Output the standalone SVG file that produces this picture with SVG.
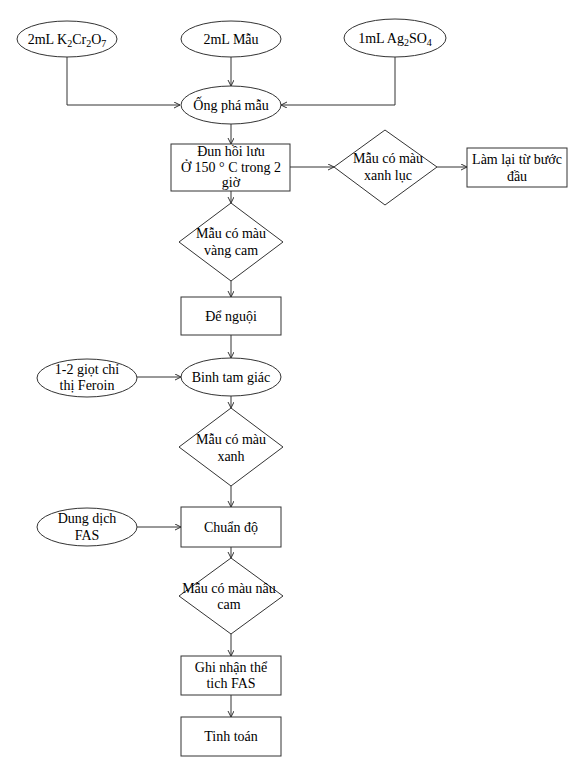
<svg xmlns="http://www.w3.org/2000/svg" width="572" height="771" viewBox="0 0 572 771">
<style>
.s{fill:#fff;stroke:#333;stroke-width:1}
.c{fill:none;stroke:#333;stroke-width:1}
text{font-family:"Liberation Serif","DejaVu Serif",serif;font-size:14px;fill:#000;text-anchor:middle}
.sub{font-size:10px}
</style>
<defs>
<marker id="a" markerWidth="8" markerHeight="8" refX="6" refY="3" orient="auto" markerUnits="userSpaceOnUse">
<path d="M0,0 L6,3 L0,6" fill="none" stroke="#333" stroke-width="1"/>
</marker>
</defs>
<rect width="572" height="771" fill="#fff"/>
<g id="connectors">
<path class="c" d="M67,57 V105 H180" marker-end="url(#a)"/>
<path class="c" d="M231,57 V86" marker-end="url(#a)"/>
<path class="c" d="M395,57 V105 H281" marker-end="url(#a)"/>
<path class="c" d="M231,124 V144" marker-end="url(#a)"/>
<path class="c" d="M290,167 H334" marker-end="url(#a)"/>
<path class="c" d="M437,167 H467" marker-end="url(#a)"/>
<path class="c" d="M231,191 V203" marker-end="url(#a)"/>
<path class="c" d="M231,281 V297" marker-end="url(#a)"/>
<path class="c" d="M231,335 V358" marker-end="url(#a)"/>
<path class="c" d="M137,377 H181" marker-end="url(#a)"/>
<path class="c" d="M231,396 V408" marker-end="url(#a)"/>
<path class="c" d="M231,486 V507" marker-end="url(#a)"/>
<path class="c" d="M137,527 H181" marker-end="url(#a)"/>
<path class="c" d="M231,547 V558" marker-end="url(#a)"/>
<path class="c" d="M231,634 V656" marker-end="url(#a)"/>
<path class="c" d="M231,695 V717" marker-end="url(#a)"/>
</g>
<g id="n-k2cr2o7"><ellipse class="s" cx="67" cy="39" rx="50" ry="18"/><text x="67" y="44">2mL K<tspan class="sub" dy="3">2</tspan><tspan dy="-3">Cr</tspan><tspan class="sub" dy="3">2</tspan><tspan dy="-3">O</tspan><tspan class="sub" dy="3">7</tspan></text></g>
<g id="n-mau"><ellipse class="s" cx="231" cy="39" rx="50" ry="18"/><text x="231" y="44">2mL Mẫu</text></g>
<g id="n-ag2so4"><ellipse class="s" cx="395" cy="38" rx="51" ry="19"/><text x="395" y="43">1mL Ag<tspan class="sub" dy="3">2</tspan><tspan dy="-3">SO</tspan><tspan class="sub" dy="3">4</tspan></text></g>
<g id="n-ong"><ellipse class="s" cx="231" cy="105" rx="50" ry="19"/><text x="231" y="110">Ống phá mẫu</text></g>
<g id="n-dun"><rect class="s" x="171" y="144" width="119" height="47"/><text x="231" y="156">Đun hồi lưu</text><text x="231" y="172">Ở 150 ° C trong 2</text><text x="231" y="187">giờ</text></g>
<g id="n-xanhluc"><polygon class="s" points="385,130 437,167 385,205 334,167"/><text x="388" y="163">Mẫu có màu</text><text x="388" y="180">xanh lục</text></g>
<g id="n-lamlai"><rect class="s" x="467" y="148" width="100" height="39"/><text x="517" y="164">Làm lại từ bước</text><text x="517" y="181">đầu</text></g>
<g id="n-vangcam"><polygon class="s" points="231,203 283,242 231,281 179,242"/><text x="231" y="238">Mẫu có màu</text><text x="231" y="255">vàng cam</text></g>
<g id="n-denguoi"><rect class="s" x="181" y="297" width="100" height="38"/><text x="231" y="321">Để nguội</text></g>
<g id="n-feroin"><ellipse class="s" cx="87" cy="378" rx="50" ry="19"/><text x="87" y="374">1-2 giọt chỉ</text><text x="87" y="390">thị Feroin</text></g>
<g id="n-binh"><ellipse class="s" cx="231" cy="377" rx="50" ry="19"/><text x="231" y="382">Binh tam giác</text></g>
<g id="n-xanh"><polygon class="s" points="231,408 283,447 231,486 179,447"/><text x="231" y="444">Mẫu có màu</text><text x="231" y="461">xanh</text></g>
<g id="n-fas"><ellipse class="s" cx="87" cy="527" rx="50" ry="19"/><text x="87" y="523">Dung dịch</text><text x="87" y="540">FAS</text></g>
<g id="n-chuando"><rect class="s" x="181" y="507" width="100" height="40"/><text x="231" y="532">Chuẩn độ</text></g>
<g id="n-naucam"><polygon class="s" points="231,558 283,596 231,634 179,596"/><text x="229" y="593">Mẫu có màu nâu</text><text x="229" y="609">cam</text></g>
<g id="n-ghinhan"><rect class="s" x="181" y="656" width="100" height="39"/><text x="231" y="672">Ghi nhận thể</text><text x="231" y="688">tich FAS</text></g>
<g id="n-tinhtoan"><rect class="s" x="181" y="717" width="100" height="39"/><text x="231" y="741">Tinh toán</text></g>
</svg>
